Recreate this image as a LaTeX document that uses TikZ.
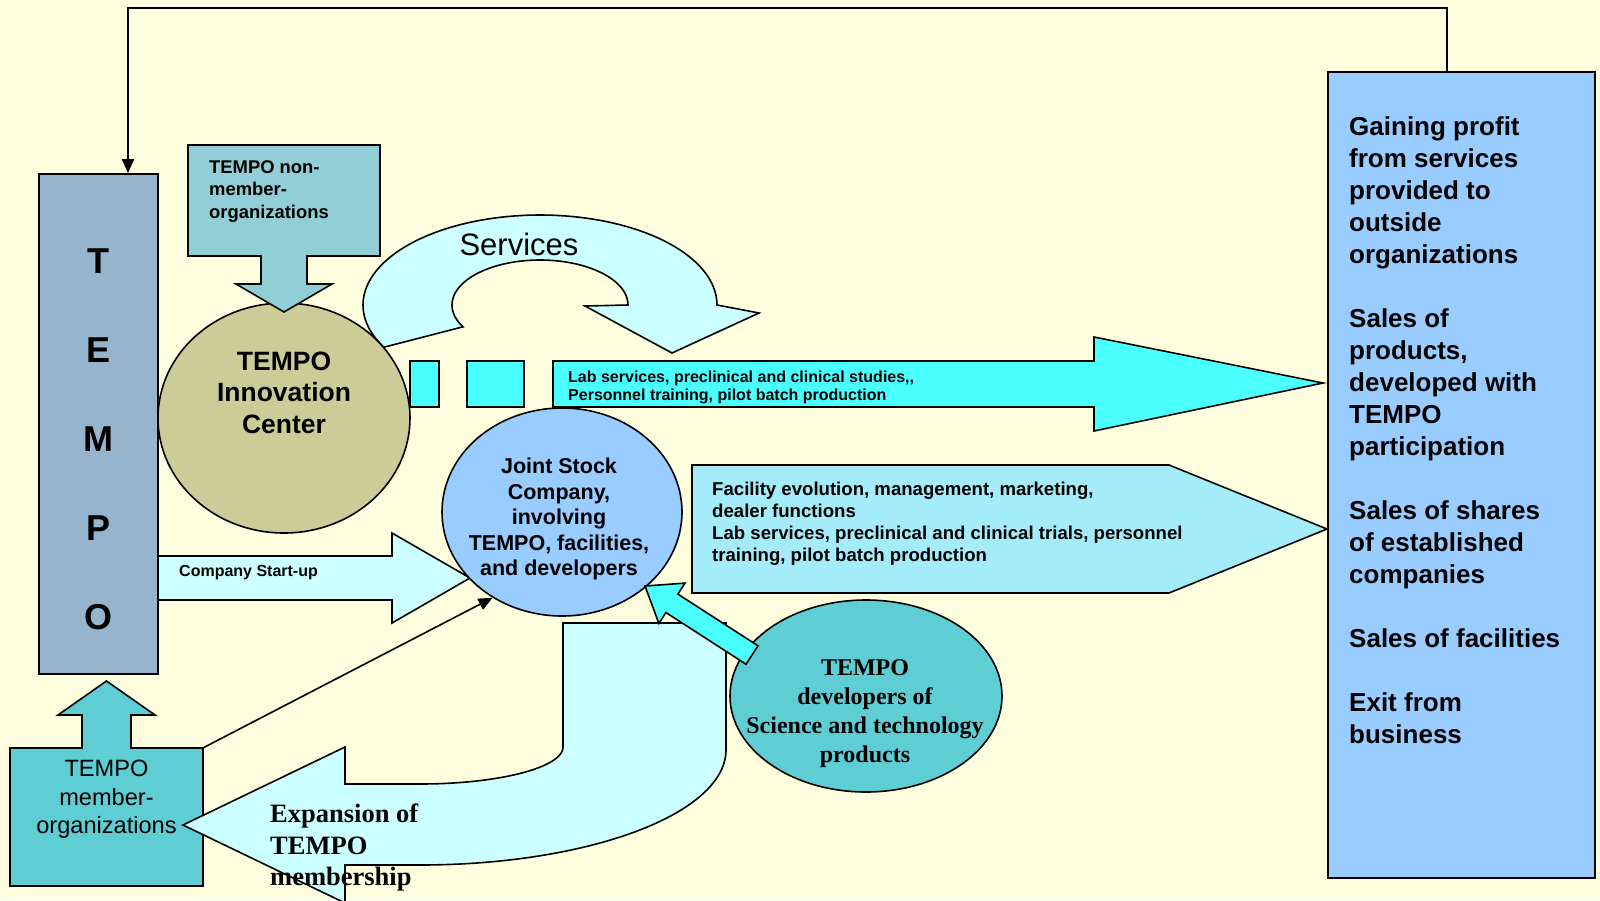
\documentclass[tikz,border=0pt]{standalone}
\usepackage{fontspec}
\setmainfont{Liberation Sans}
\newfontfamily\timesfam{Liberation Serif}
\usetikzlibrary{shapes.geometric,arrows.meta}
\definecolor{bgc}{HTML}{FFFFE0}
\definecolor{tempoc}{HTML}{97B4CD}
\definecolor{nonmemc}{HTML}{92CED6}
\definecolor{innc}{HTML}{CCCC99}
\definecolor{lightc}{HTML}{CCFFFF}
\definecolor{cyanc}{HTML}{4BFFFF}
\definecolor{jscc}{HTML}{99CCFF}
\definecolor{facc}{HTML}{A4ECFA}
\definecolor{devc}{HTML}{5FCDD4}
\newcommand{\myfs}[2]{\fontsize{#1}{#2}\selectfont}
\begin{document}
\begin{tikzpicture}[x=1pt,y=-1pt,line join=miter,
  shp/.style={draw=black,line width=1.6pt},
  conn/.style={draw=black,line width=1.6pt,-{Triangle[length=14pt,width=12pt]}},
  txt/.style={inner sep=0pt,text=black}]
\useasboundingbox (0,0) rectangle (1600,900);
\clip (0,0) rectangle (1600,900);
\fill[bgc] (0,0) rectangle (1600,900);

% TEMPO column
\node[shp,fill=tempoc,minimum width=119pt,minimum height=500pt,inner sep=0pt] (tempo) at (98.5,424) {};
\node[txt,font=\myfs{36}{89}\bfseries,align=center,anchor=north] (tempolet) at (98.5,249) {T\\E\\M\\P\\O};

% right box
\node[shp,fill=jscc,minimum width=267pt,minimum height=806pt,inner sep=0pt] (rbox) at (1461.5,475) {};
\node[txt,font=\myfs{26}{32}\bfseries,align=left,anchor=north west] (rtext) at (1349,116.5)
  {Gaining profit\\from services\\provided to\\outside\\organizations\\[32pt]Sales of\\products,\\developed with\\TEMPO\\participation\\[32pt]Sales of shares\\of established\\companies\\[32pt]Sales of facilities\\[32pt]Exit from\\business};

% top connector
\coordinate (tr) at (1447,8);
\coordinate (tl) at (128,8);
\draw[conn] (rbox.north -| tr) -- (tr) -- (tl) -- (tempo.north -| tl);

% Services arrow
\draw[shp,fill=lightc] (717,305) -- (759,313) -- (672,353) -- (585,306) -- (628,305)
  -- plot[domain=0:209,samples=70] ({540+88*cos(\x)},{305-45*sin(\x)})
  -- plot[domain=0:208,samples=90] ({540+177*cos(208-\x)},{305-90*sin(208-\x)}) -- cycle;
\node[txt,font=\myfs{31}{31}] (serv) at (519,244) {Services};

% Innovation center
\node[shp,ellipse,fill=innc,minimum width=252pt,minimum height=230pt,inner sep=0pt] (ic) at (284,418) {};
\node[txt,font=\myfs{26.5}{31.5}\bfseries,align=center,anchor=north] (ictext) at (284,351.5) {TEMPO\\Innovation\\Center};

% non-member callout
\draw[shp,fill=nonmemc] (188,145) -- (380,145) -- (380,256) -- (307,256) -- (307,284) -- (332,284)
  -- (284,312) -- (236,284) -- (261,284) -- (261,256) -- (188,256) -- cycle;
\node[txt,font=\myfs{18.4}{22.5}\bfseries,align=left,anchor=north west] (nmtext) at (209,160) {TEMPO non-\\member-\\organizations};

% squares and top arrow
\node[shp,fill=cyanc,minimum width=29pt,minimum height=46pt,inner sep=0pt] (sqa) at (424.5,384) {};
\node[shp,fill=cyanc,minimum width=57pt,minimum height=46pt,inner sep=0pt] (sqb) at (495.5,384) {};
\draw[shp,fill=cyanc] (553,361) -- (1094,361) -- (1094,337) -- (1323,383) -- (1094,431) -- (1094,407) -- (553,407) -- cycle;
\node[txt,font=\myfs{16}{17.5}\bfseries,align=left,anchor=north west] (labtext) at (568,371)
  {Lab services, preclinical and clinical studies,\kern0pt,\\Personnel training, pilot batch production};

% Company start-up arrow
\draw[shp,fill=lightc] (158,556) -- (392,556) -- (392,533) -- (470,578) -- (392,623) -- (392,600) -- (158,600) -- cycle;
\node[txt,font=\myfs{16}{16}\bfseries,anchor=north west] (cstext) at (179,565.5) {Company Start-up};

% Joint stock company
\node[shp,ellipse,fill=jscc,minimum width=240pt,minimum height=208pt,inner sep=0pt] (jsc) at (562,512) {};
\node[txt,font=\myfs{21.5}{25.5}\bfseries,align=center,anchor=north] (jsctext) at (559,458)
  {Joint Stock\\Company,\\involving\\TEMPO, facilities,\\and developers};

% facility arrow
\draw[shp,fill=facc] (692,465) -- (1169,465) -- (1327,529) -- (1169,593) -- (692,593) -- cycle;
\node[txt,font=\myfs{18.6}{22}\bfseries,align=left,anchor=north west] (factext) at (712,481.5)
  {Facility evolution, management, marketing,\\dealer functions\\Lab services, preclinical and clinical trials, personnel\\training, pilot batch production};

% member callout
\draw[shp,fill=devc] (10,748) -- (82,748) -- (82,715) -- (58,715) -- (106.5,681) -- (155,715) -- (131,715)
  -- (131,748) -- (203,748) -- (203,886) -- (10,886) -- cycle;
\node[inner sep=0pt,minimum width=193pt,minimum height=138pt] (member) at (106.5,817) {};
\node[txt,font=\myfs{23.6}{28.5},align=center,anchor=north] (memtext) at (106.5,760) {TEMPO\\member-\\organizations};

% expansion arrow
\draw[shp,fill=lightc] (183,825) -- (345,747) -- (345,784) -- (420,784)
  -- plot[domain=0:90,samples=40] ({420+143*cos(90-\x)},{747+37*sin(90-\x)})
  -- (563,623) -- (726,623) -- (726,750)
  -- plot[domain=0:90,samples=50] ({420+306*cos(\x)},{750+115*sin(\x)})
  -- (345,865) -- (345,903) -- cycle;
\node[txt,font=\timesfam\myfs{26.5}{31.5}\bfseries,align=left,anchor=north west] (exptext) at (270,804)
  {Expansion of\\TEMPO\\membership};

% developers
\node[shp,ellipse,fill=devc,minimum width=272pt,minimum height=192pt,inner sep=0pt] (dev) at (866,696) {};
\node[txt,font=\timesfam\myfs{24}{29}\bfseries,align=center,anchor=north] (devtext) at (865,659)
  {TEMPO\\developers of\\Science and technology\\products};
\draw[shp,fill=cyanc] (645,586) -- (684.9,583.1) -- (677.9,594.1) -- (758,645.8) -- (746,664.2)
  -- (665.9,612.5) -- (658.9,623.5) -- cycle;

% member -> JSC connector
\draw[conn] (member.north east) -- (jsc.231);
\end{tikzpicture}
\end{document}
